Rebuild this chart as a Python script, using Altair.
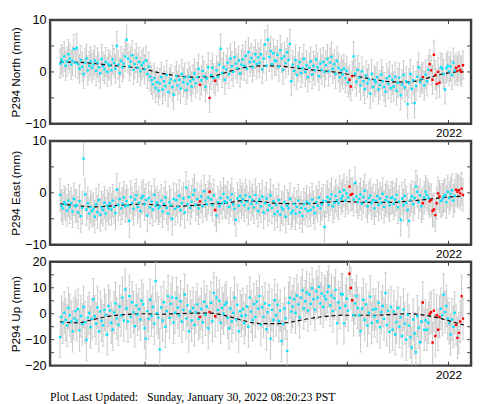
import altair as alt
import pandas as pd

# ---- time sampling of the GPS solutions (decimal years) ----
T0 = 2018.16
STEP_YR = 5 / 365.25
X_DOMAIN = [2018.061, 2022.223]
YEAR_TICKS = [2019, 2020, 2021, 2022]
YEAR_LABELS = [2022]

NORTH = [
    1.6, 2.4, 1.9, 3.0, 1.2, 2.0, 3.4, 2.6, 1.4, 2.1, 4.4, 1.8,
    4.6, 1.5, 0.6, 2.3, 1.0, -0.4, 1.8, 2.6, 0.3, 1.2, 2.0, 0.8,
    1.4, 2.2, 0.2, 1.8, 0.9, -0.3, 2.5, 1.1, 0.5, 1.9, 0.0, 1.5,
    1.2, 0.3, 2.4, 1.7, 0.6, 5.0, 1.4, -0.2, 2.1, 0.9, 1.6, 3.0,
    6.2, 2.6, 1.1, 2.0, 3.2, 0.4, 1.5, 2.7, 0.8, 1.9, 0.1, 1.3,
    1.8, 0.5, 2.2, -0.4, 1.0, -0.9, -1.6, -2.4, -1.2, -3.1, -2.0, -3.6,
    -2.2, -1.0, -3.4, -1.8, -2.7, -0.6, -3.9, -2.1, -1.4, -2.9, -4.4, -1.7,
    -0.8, -2.6, -1.5, -3.2, -0.4, -2.0, -1.1, -3.5, -2.3, -0.9, -1.8, -2.8,
    -1.4, -0.3, -2.2, -1.0, 0.6, -2.5, -1.6, 0.2, -0.8, -2.9, -1.3, 0.9,
    -5.0, -0.6, 0.8, -1.2, -1.7, 0.3, -0.9, 1.4, 4.5, -0.2, 0.9, -1.5,
    0.5, 1.8, -0.4, 2.6, 1.1, 0.0, 2.9, 1.6, 0.7, 2.2, -0.3, 1.4,
    2.4, 1.2, 3.1, 0.6, 3.8, 1.9, 2.7, 0.9, 2.0, 3.4, 1.5, 2.8,
    1.8, 3.4, 0.5, 2.6, 5.3, 1.2, 6.2, 2.9, 4.0, 1.5, 3.6, 2.2,
    2.1, 3.3, 1.0, 4.2, 2.6, 0.4, 3.0, 1.7, 3.8, 2.3, 5.4, -1.8,
    1.4, 0.2, 2.3, -0.6, 1.0, 1.9, -0.2, 0.7, 2.5, 0.0, 1.3, -1.0,
    0.8, 2.0, -0.5, 1.2, 0.3, 2.4, 0.9, -0.8, 1.6, 0.4, 1.9, 0.0,
    1.3, 2.5, 0.1, 1.8, 2.9, 0.6, 1.5, -0.4, 2.1, 0.8, -1.0, 0.3,
    -0.5, 0.6, -1.2, 0.2, -2.0, -1.5, -2.8, -0.8, 3.0, -0.3, -1.9, 0.4,
    -1.1, -2.6, 0.1, -1.8, -3.3, -0.7, -2.2, -1.4, -4.2, -0.4, -2.9, -1.6,
    -2.0, -1.0, -3.4, -2.5, -0.5, -1.8, -2.9, -3.8, -1.2, -2.3, -0.8, -3.1,
    -1.5, -2.8, -0.9, -3.6, -2.1, -1.1, -4.5, -2.4, -0.6, -3.0, -1.8, -6.2,
    -2.2, -0.4, -3.3, -1.6, -6.0, -2.7, -0.9, 0.9, -2.0, -1.3, -1.0, -2.6,
    -0.5, -1.8, 0.4, 1.5, 0.3, -1.5, 3.3, -0.6, -2.3, 0.0, -2.1, 0.9,
    0.6, -0.4, -3.4, 0.7, 1.2, 0.1, 1.0, -0.6, 1.8, 0.3, 0.8, 0.2,
    1.1, 0.4, 0.0, 1.3,
]

EAST = [
    -0.4, -2.5, -3.0, -1.8, -2.2, -3.4, -1.5, -2.8, -2.0, -3.6, -1.2, -2.6,
    -2.4, -3.8, -1.6, -4.5, -2.9, 6.6, -0.3, -3.2, -2.0, -4.0, -2.7, -3.5,
    -3.1, -4.6, -2.2, -3.7, -1.4, -4.2, -2.8, -3.3, -1.9, -4.0, -2.5, -3.0,
    -2.0, -3.2, -1.5, -2.7, -3.9, 0.6, -2.3, -1.2, -3.0, -2.1, -0.9, -2.6,
    -1.6, -2.4, -5.4, -0.8, -2.0, -3.1, -1.3, -0.5, -2.7, -1.9, -3.5, -1.0,
    -0.6, -2.2, -1.4, -4.4, -1.0, -2.8, -1.7, -3.2, -0.4, -2.5, -1.9, -3.0,
    -2.6, -1.5, -3.6, -2.1, -0.9, -2.9, -4.0, -1.8, -2.4, -5.0, -1.2, -3.1,
    -1.4, -2.7, -0.6, -3.3, -2.0, -1.1, -3.8, 1.0, -2.2, -0.8, -2.9, -1.7,
    -0.4, 0.5, -2.3, -1.2, -3.0, -1.65, -0.7, -2.6, 0.3, -1.5, -2.2, -0.9,
    0.2, -1.3, -2.4, -0.5, -3.3, -4.4, -1.8, -2.6, -1.0, -2.0, -0.2, -1.6,
    -1.9, -0.9, -2.7, -1.4, -0.3, -2.2, -3.1, -5.2, -1.1, -2.5, -0.6, -1.8,
    -1.2, -2.4, -0.5, -1.7, -3.0, -0.8, -2.1, -1.4, -2.8, -0.4, -1.9, -3.5,
    -1.3, -2.6, -0.7, -3.8, -2.0, -1.1, -3.3, -2.4, -0.5, -2.9, -1.6, -4.1,
    -2.3, -3.6, -1.4, -4.2, -2.8, -3.2, -1.8, -4.6, -2.5, -3.0, -1.2, -3.9,
    -3.4, -2.1, -4.0, -2.7, -1.5, -3.8, -2.9, -4.5, -2.2, -3.1, -1.7, -3.5,
    -2.0, -3.3, -1.3, -2.8, -3.9, -1.8, -2.5, -0.9, -3.0, -2.2, -1.5, -6.6,
    -1.6, -0.8, -2.3, -1.2, -0.3, -2.6, -1.9, -0.6, -1.4, -2.0, 0.2, -1.1,
    -0.6, 0.5, -1.5, -0.1, -0.9, 1.2, -0.4, -0.2, -1.3, 1.9, -0.7, -1.8,
    -1.2, -0.3, -2.1, -0.8, 0.4, -1.6, -2.6, -1.0, -0.5, -2.0, -1.4, -3.0,
    -1.5, -0.6, -2.3, -1.1, -1.9, -0.2, -2.7, -1.4, -0.8, -1.7, -2.4, -1.0,
    -0.9, -2.1, -1.3, -0.4, -2.8, -1.7, -5.2, -1.1, -2.4, -0.6, -1.9, -3.3,
    -5.4, -1.4, -0.7, -2.2, -1.0, 1.2, 0.2, -1.8, -0.5, -2.6, -2.0, -0.9,
    0.2, -0.4, -1.0, -1.65, -1.35, -3.5, -3.2, -4.3, -2.0, -0.1, -0.7, -1.6,
    -1.3, -0.7, -0.4, -1.8, 0.2, -1.0, -0.2, 0.5, -1.5, -0.6, 0.6, 0.2,
    0.5, -0.1, 0.8, -0.4,
]

UP = [
    -9.0, -1.2, -3.5, 0.4, -2.4, -4.6, 2.2, -0.6, -3.0, -6.8, -1.8, 1.0,
    -2.6, 1.8, -6.4, -0.9, -4.1, 2.6, -3.3, -10.1, -1.5, 0.3, -5.2, -2.0,
    5.6, -1.0, -3.8, 2.4, -6.8, 0.8, -2.7, -4.5, 1.5, -0.5, -8.0, 3.0,
    1.2, -3.5, -6.2, 0.5, 4.0, -1.8, -4.2, 2.8, -0.7, 6.2, -2.6, 9.3,
    2.0, -3.0, 6.8, -1.2, 4.4, 0.6, -4.8, 3.2, -0.3, 1.7, -2.2, 5.0,
    3.6, -5.6, -9.6, 1.0, -2.0, 5.4, -0.8, 2.6, -3.8, 12.6, 0.2, -1.5,
    -13.8, 2.4, -2.6, 4.4, -5.0, 1.0, 6.8, -1.6, 3.8, 6.2, -3.4, 0.4,
    6.0, 2.4, -0.7, 4.8, -3.1, 1.5, 7.4, -1.8, 3.2, -6.8, 0.9, -2.6,
    2.2, -4.4, 0.6, 3.6, -2.0, -1.2, 1.8, -3.3, 4.6, -0.4, 2.8, -5.6,
    0.6, 4.2, -2.8, 8.0, -1.0, 6.2, 1.4, 5.0, -3.6, 2.2, 0.0, 3.4,
    4.3, -1.6, -5.6, 2.0, -3.0, 0.4, 6.2, -2.2, 3.4, -6.8, 1.0, -0.8,
    1.8, -3.6, -0.6, 2.8, -5.0, 6.2, 0.8, -2.4, 3.7, -1.2, 4.6, 2.0,
    6.8, -4.3, 2.5, -1.2, 4.0, -6.0, 0.6, 3.3, -9.6, 1.5, -2.4, 5.2,
    -0.6, 3.4, -2.8, 1.2, -10.5, -4.0, 2.0, -1.8, -14.4, 4.2, 6.2, 0.8,
    2.8, 5.6, 0.4, 7.0, 3.6, -1.4, 6.2, 9.0, 2.0, 4.8, 8.2, 1.2,
    7.4, 3.8, 9.8, 5.6, 1.6, 8.6, 6.2, 10.4, 4.0, 7.8, 2.6, 6.8,
    5.6, 8.4, 10.5, 3.2, 7.0, 1.0, 6.0, 9.2, -3.7, 4.4, 2.2, 7.6,
    7.4, -3.7, 3.1, 5.8, 1.2, 15.4, 9.9, 5.2, -0.6, 4.0, 6.8, 2.2,
    -0.6, -6.8, 2.0, 5.4, -2.4, 3.6, -4.6, 0.4, 6.6, -3.6, 1.6, -1.0,
    1.8, -3.0, 4.2, -5.2, 0.6, 3.0, -2.0, 8.0, -4.4, 1.2, -7.0, 2.6,
    -6.2, 0.8, -8.0, -3.2, 2.2, -5.0, -1.4, -8.6, 1.6, -3.8, -10.0, -0.4,
    -4.6, -9.0, -13.0, -2.2, -7.6, -14.8, -1.0, -5.4, -11.0, -3.0, 4.3, -6.2,
    -2.5, -6.2, -3.5, 0.0, 0.6, -11.1, 1.2, -8.6, -0.6, -6.2, -1.2, 1.9,
    -0.6, 7.4, 0.6, 3.0, -1.9, -3.7, -8.0, -2.2, -5.0, 0.4, -4.3, -9.3,
    -7.4, -3.0, 6.8, -1.9,
]

# indices of rapid (red) solutions
RED_IDX = [101, 108, 112, 209, 210, 211, 262,
           267, 268, 269, 270, 271, 272, 273, 274,
           286, 287, 288, 289, 290, 291]

# model curve (dashed)
MODEL_T = [2018.16, 2018.33, 2018.49, 2018.65, 2018.82, 2018.98, 2019.15,
           2019.31, 2019.47, 2019.64, 2019.80, 2019.97, 2020.13, 2020.29,
           2020.46, 2020.62, 2020.79, 2020.95, 2021.11, 2021.28, 2021.44,
           2021.60, 2021.77, 2021.93, 2022.09, 2022.15]
MODEL_N = [1.9, 1.85, 1.65, 1.3, 1.0, 0.6, -0.2, -0.75, -1.0, -0.95, -0.1, 0.8,
           1.15, 1.15, 0.85, 0.45, 0.15, -0.25, -0.9, -1.5, -1.9, -1.95, -1.3,
           -0.45, 0.0, 0.0]
MODEL_E = [-2.1, -2.5, -2.7, -2.55, -2.3, -2.15, -2.4, -2.6, -2.45, -2.15, -2.0,
           -1.5, -1.65, -2.0, -2.1, -2.1, -1.8, -1.65, -1.8, -1.85, -1.85, -1.6,
           -1.3, -0.95, -0.7, -0.7]
MODEL_U = [-3.1, -3.5, -2.2, -0.9, -0.3, 0.0, -0.2, 0.0, 0.2, 0.2, -0.8, -2.6,
           -3.8, -3.8, -3.1, -1.9, -1.0, -0.6, -0.6, -0.6, -0.3, 0.0, -0.6, -1.9,
           -3.7, -4.3]

SIGMA_N, SIGMA_E, SIGMA_U = 2.8, 3.1, 8.0

FOOTER = "Plot Last Updated:\u00a0\u00a0\u00a0Sunday, January 30, 2022 08:20:23 PST"

# ---- styling ----
W, H = 430, 106
SANS = "Liberation Sans"
SERIF = "Liberation Serif"
CYAN = "#00e5ff"
RED = "#ff0000"
GRAY = "#c8c8c8"
FRAME = "#404040"


def panel(vals, mvals, sigma, title, ydom, ylabels, yticks):
    red = set(RED_IDX)
    n = len(vals)
    df = pd.DataFrame({
        "t": [T0 + i * STEP_YR for i in range(n)],
        "v": vals,
        "kind": ["r" if i in red else "c" for i in range(n)],
    })
    df["lo"] = df["v"] - sigma
    df["hi"] = df["v"] + sigma

    xs = alt.Scale(domain=X_DOMAIN, nice=False, zero=False)
    ys = alt.Scale(domain=ydom, nice=False, zero=False)
    xaxis = alt.Axis(values=YEAR_LABELS, format="d", ticks=False, domain=False,
                     grid=False, title=None, labelFont=SANS, labelFontSize=12,
                     labelPadding=4, labelColor="black", labelFlush=False)
    yaxis = alt.Axis(values=ylabels, ticks=False, domain=False, grid=False,
                     title=title, labelFont=SANS, labelFontSize=13,
                     labelPadding=4, labelColor="black", titleFont=SANS,
                     titleFontSize=12, titleFontWeight="normal",
                     titleColor="black", titlePadding=2, labelFlush=False)

    X = lambda f="t:Q": alt.X(f, scale=xs, axis=xaxis)
    Y = lambda f: alt.Y(f, scale=ys, axis=yaxis)

    base = alt.Chart(df)
    bars = base.mark_rule(color=GRAY, strokeWidth=1, clip=True).encode(
        x=X(), y=Y("lo:Q"), y2="hi:Q",
    )
    cap_lo = base.mark_tick(orient="horizontal", size=3, thickness=1,
                            color=GRAY, clip=True).encode(x=X(), y=Y("lo:Q"))
    cap_hi = base.mark_tick(orient="horizontal", size=3, thickness=1,
                            color=GRAY, clip=True).encode(x=X(), y=Y("hi:Q"))
    model = alt.Chart(pd.DataFrame({"t": MODEL_T, "v": mvals})).mark_line(
        color="black", strokeDash=[4, 3], strokeWidth=1.2,
        interpolate="monotone", clip=True).encode(x=X(), y=Y("v:Q"))
    cyan = base.transform_filter("datum.kind == 'c'").mark_square(
        size=6, color=CYAN, opacity=1, clip=True).encode(x=X(), y=Y("v:Q"))
    reds = base.transform_filter("datum.kind == 'r'").mark_square(
        size=6, color=RED, opacity=1, clip=True).encode(x=X(), y=Y("v:Q"))

    ydf = pd.DataFrame({"v": yticks})
    xdf = pd.DataFrame({"t": YEAR_TICKS})
    tl = alt.Chart(ydf).mark_rule(color=FRAME, strokeWidth=1).encode(
        y=Y("v:Q"), x=alt.value(0), x2=alt.value(4))
    tr = alt.Chart(ydf).mark_rule(color=FRAME, strokeWidth=1).encode(
        y=Y("v:Q"), x=alt.value(W - 4), x2=alt.value(W))
    tt = alt.Chart(xdf).mark_rule(color=FRAME, strokeWidth=1).encode(
        x=X(), y=alt.value(0), y2=alt.value(4))
    tb = alt.Chart(xdf).mark_rule(color=FRAME, strokeWidth=1).encode(
        x=X(), y=alt.value(H - 4), y2=alt.value(H))

    return alt.layer(bars, cap_lo, cap_hi, model, cyan, reds, tl, tr, tt, tb
                     ).properties(width=W, height=H)


p_n = panel(NORTH, MODEL_N, SIGMA_N, "P294 North (mm)", [-10, 10],
            [-10, 0, 10], [-5, 0, 5])
p_e = panel(EAST, MODEL_E, SIGMA_E, "P294 East (mm)", [-10, 10],
            [-10, 0, 10], [-5, 0, 5])
p_u = panel(UP, MODEL_U, SIGMA_U, "P294 Up (mm)", [-20, 20],
            [-20, -10, 0, 10, 20], [-15, -10, -5, 0, 5, 10, 15])

footer = alt.Chart(pd.DataFrame({"s": [FOOTER]})).mark_text(
    align="left", baseline="alphabetic", font=SERIF, fontSize=12,
    color="black").encode(
    x=alt.value(0), y=alt.value(19), text="s:N"
).properties(width=W, height=21, view=alt.ViewBackground(strokeOpacity=0))

chart = alt.vconcat(p_n, p_e, p_u, footer, spacing=17.5, bounds="flush"
                    ).properties(padding=0).configure_view(
    stroke=FRAME, strokeWidth=2.5)

chart.save("out.html", embed_options={"renderer": "svg", "actions": False})
